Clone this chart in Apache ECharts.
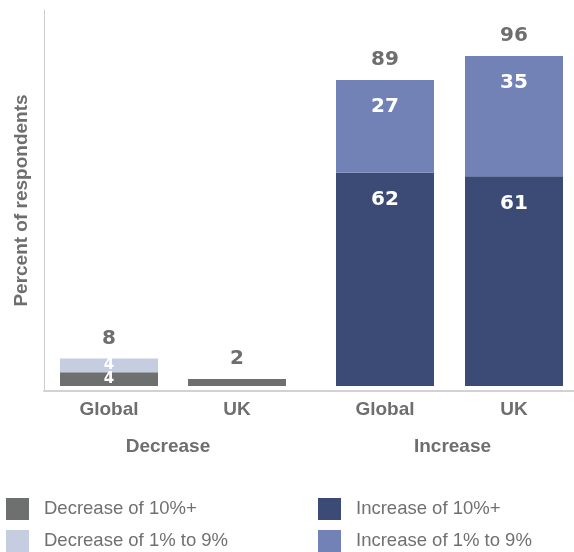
<!DOCTYPE html>
<html>
<head>
<meta charset="utf-8">
<script src="https://cdn.jsdelivr.net/npm/echarts@6/dist/echarts.min.js"></script>
<style>
  html, body { margin: 0; padding: 0; background: #ffffff; }
  #chart { width: 574px; height: 552px; }
</style>
</head>
<body>
<div id="chart"></div>
<script>
// Share of respondents expecting a change, by region
const regions = ['Global', 'UK'];

const decreaseTen = [4, 2];        // Decrease of 10%+
const decreaseOneToNine = [4, 0];  // Decrease of 1% to 9%
const decreaseTotal = [8, 2];

const increaseTen = [62, 61];        // Increase of 10%+
const increaseOneToNine = [27, 35];  // Increase of 1% to 9%
const increaseTotal = [89, 96];

const groupNames = ['Decrease', 'Increase'];
const seriesNames = ['Decrease of 10%+', 'Decrease of 1% to 9%', 'Increase of 10%+', 'Increase of 1% to 9%'];

const COLORS = {
  decTen: '#6d706f',
  decOne: '#c6cde1',
  incTen: '#3b4b76',
  incOne: '#7282b6'
};
const TEXT = '#6e6e6e';
const FONT = '"Liberation Sans", Arial, sans-serif';
const NUM_FONT = '"DejaVu Sans", sans-serif';

const Y_MIN = -1.4545;
const Y_MAX = 109.38;
const BAR_W = 98;

const chart = echarts.init(document.getElementById('chart'), null, { renderer: 'canvas' });

function hiddenY(idx) {
  return {
    type: 'value', gridIndex: idx, min: Y_MIN, max: Y_MAX,
    axisLine: { show: false }, axisTick: { show: false },
    axisLabel: { show: false }, splitLine: { show: false }
  };
}

// Group axes put each category on a tick, so the grid spans bar centre to bar centre
function groupX(idx, name, namePadding) {
  return {
    type: 'category', gridIndex: idx, data: regions, boundaryGap: false,
    axisLine: { show: false }, axisTick: { show: false },
    axisLabel: { color: TEXT, fontFamily: FONT, fontSize: 19, fontWeight: 'bold', margin: 9 },
    name: name, nameLocation: 'middle', nameGap: 46,
    nameTextStyle: { color: TEXT, fontFamily: FONT, fontSize: 19, fontWeight: 'bold', padding: namePadding }
  };
}

// Inside labels are skipped where the segment is too thin to hold them
function segmentData(values) {
  return values.map(v => ({ value: v, label: { show: v >= 3 } }));
}

const insideCentered = {
  show: true, position: 'inside', color: '#ffffff',
  fontFamily: NUM_FONT, fontSize: 15, fontWeight: 'bold'
};
const insideTop = {
  show: true, position: 'insideTop', distance: 17, color: '#ffffff',
  fontFamily: NUM_FONT, fontSize: 20, fontWeight: 'bold'
};
const totalLabel = {
  show: true, position: 'top', distance: 10, color: TEXT,
  fontFamily: NUM_FONT, fontSize: 20, fontWeight: 'bold'
};

const legendBase = {
  orient: 'vertical', top: 498, padding: 0,
  itemWidth: 23, itemHeight: 22, itemGap: 10, icon: 'rect',
  textStyle: { color: '#707070', fontFamily: FONT, fontSize: 18.5, padding: [4, 0, 0, 10] },
  selectedMode: false
};

const option = {
  backgroundColor: '#ffffff',
  animation: false,
  grid: [
    { left: 44, right: 0, top: 10, bottom: 161 },   // frame with the shared axes
    { left: 109, width: 128, top: 10, bottom: 161 }, // decrease group
    { left: 385, width: 129, top: 10, bottom: 161 }  // increase group
  ],
  xAxis: [
    {
      type: 'category', gridIndex: 0, data: [''],
      axisLine: { show: true, onZero: false, lineStyle: { color: '#d2d2d2', width: 2 } },
      axisTick: { show: false }, axisLabel: { show: false }
    },
    groupX(1, groupNames[0], [0, 10, 0, 0]),
    groupX(2, groupNames[1], [0, 0, 0, 6])
  ],
  yAxis: [
    {
      type: 'value', gridIndex: 0, min: Y_MIN, max: Y_MAX,
      axisLine: { show: true, lineStyle: { color: '#cccccc', width: 1 } },
      axisTick: { show: false }, axisLabel: { show: false }, splitLine: { show: false },
      name: 'Percent of respondents', nameLocation: 'middle', nameGap: 13,
      nameTextStyle: { color: TEXT, fontFamily: FONT, fontSize: 19, fontWeight: 'bold' }
    },
    hiddenY(1),
    hiddenY(2)
  ],
  legend: [
    Object.assign({}, legendBase, { data: [seriesNames[0], seriesNames[1]], left: 6 }),
    Object.assign({}, legendBase, { data: [seriesNames[2], seriesNames[3]], left: 318 })
  ],
  series: [
    {
      name: seriesNames[0], type: 'bar', xAxisIndex: 1, yAxisIndex: 1, stack: 'dec',
      barWidth: BAR_W, clip: false, itemStyle: { color: COLORS.decTen },
      label: insideCentered, data: segmentData(decreaseTen)
    },
    {
      name: seriesNames[1], type: 'bar', xAxisIndex: 1, yAxisIndex: 1, stack: 'dec',
      barWidth: BAR_W, clip: false, itemStyle: { color: COLORS.decOne },
      label: insideCentered, data: segmentData(decreaseOneToNine)
    },
    {
      name: 'decTotal', type: 'bar', xAxisIndex: 1, yAxisIndex: 1,
      barWidth: BAR_W, barGap: '-100%', z: 1, clip: false,
      itemStyle: { color: 'rgba(0,0,0,0)' }, label: totalLabel,
      data: decreaseTotal, silent: true
    },
    {
      name: seriesNames[2], type: 'bar', xAxisIndex: 2, yAxisIndex: 2, stack: 'inc',
      barWidth: BAR_W, clip: false, itemStyle: { color: COLORS.incTen },
      label: insideTop, data: segmentData(increaseTen)
    },
    {
      name: seriesNames[3], type: 'bar', xAxisIndex: 2, yAxisIndex: 2, stack: 'inc',
      barWidth: BAR_W, clip: false, itemStyle: { color: COLORS.incOne },
      label: insideTop, data: segmentData(increaseOneToNine)
    },
    {
      name: 'incTotal', type: 'bar', xAxisIndex: 2, yAxisIndex: 2,
      barWidth: BAR_W, barGap: '-100%', z: 1, clip: false,
      itemStyle: { color: 'rgba(0,0,0,0)' }, label: totalLabel,
      data: increaseTotal, silent: true
    }
  ]
};

chart.setOption(option);
</script>
</body>
</html>
